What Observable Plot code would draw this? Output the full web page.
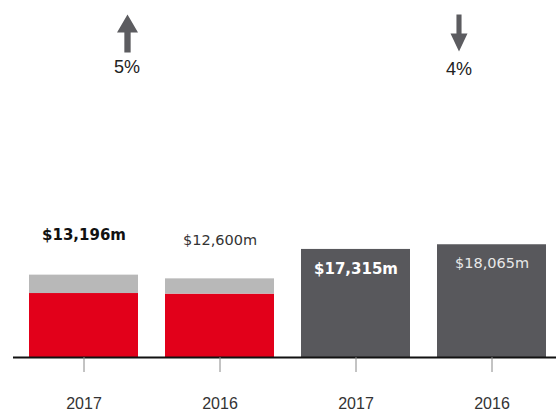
<!DOCTYPE html>
<html><head><meta charset="utf-8">
<script src="https://cdn.jsdelivr.net/npm/d3@7"></script>
<script src="https://cdn.jsdelivr.net/npm/@observablehq/plot@0.6"></script>
<style>body{margin:0;background:#fff} #chart svg{display:block}</style>
</head><body><div id="chart"></div>
<script>
// Data
const categories = ["Revenue 2017", "Revenue 2016", "Costs 2017", "Costs 2016"];
const tickLabels = ["2017", "2016", "2017", "2016"];
const totals = [13196, 12600, 17315, 18065];
const totalLabels = ["$13,196m", "$12,600m", "$17,315m", "$18,065m"];
const coreValues = [10250, 10150]; // red portion of the first two bars (estimated)
const changeLabels = ["5%", "4%"];
const changeDirections = ["up", "down"];

// Build rows
const barRows = [];
categories.forEach((c, i) => {
  if (i < 2) {
    barRows.push({cat: c, part: "core", value: coreValues[i]});
    barRows.push({cat: c, part: "other", value: totals[i] - coreValues[i]});
  } else {
    barRows.push({cat: c, part: "total", value: totals[i]});
  }
});
const labelRows = categories.map((c, i) => ({cat: c, total: totals[i], label: totalLabels[i]}));
const changeRows = changeLabels.map((l, i) => ({label: l, dir: changeDirections[i]}));

const arrowShape = {
  draw(ctx, l, r) {
    const hl = 18, sw = r * 0.3;
    ctx.moveTo(-sw, 0);
    ctx.lineTo(-sw, -(l - hl));
    ctx.lineTo(-r, -(l - hl));
    ctx.lineTo(0, -l);
    ctx.lineTo(r, -(l - hl));
    ctx.lineTo(sw, -(l - hl));
    ctx.lineTo(sw, 0);
    ctx.closePath();
  }
};

const arrowColor = "#5c5c60";
const plot = Plot.plot({
  width: 556,
  height: 413,
  marginLeft: 13,
  marginRight: 0,
  marginTop: 0,
  marginBottom: 56,
  style: {fontFamily: "Liberation Sans, Arial, sans-serif", background: "#fff"},
  x: {domain: categories, range: [28, 547], paddingInner: 0.2, paddingOuter: 0},
  y: {domain: [0, 57200], axis: null},
  color: {domain: ["core", "other", "total"], range: ["#e2001a", "#b8b8b8", "#58585c"]},
  marks: [
    Plot.barY(barRows, {x: "cat", y: "value", fill: "part"}),
    Plot.ruleY([0], {stroke: "#111", strokeWidth: 2}),
    Plot.axisX({
      tickSize: 15, tickPadding: 25, fontSize: 16,
      tickFormat: d => tickLabels[categories.indexOf(d)],
      stroke: "#888", fill: "#333", label: null
    }),
    Plot.text([labelRows[0]], {x: "cat", y: "total", text: "label", dy: -40, fontSize: 15, fontWeight: "bold", fontFamily: "DejaVu Sans", fill: "#111"}),
    Plot.text([labelRows[1]], {x: "cat", y: "total", text: "label", dy: -39, fontSize: 14.5, fontFamily: "DejaVu Sans", fill: "#333"}),
    Plot.text([labelRows[2]], {x: "cat", y: "total", text: "label", dy: 20, fontSize: 15, fontWeight: "bold", fontFamily: "DejaVu Sans", fill: "#fff"}),
    Plot.text([labelRows[3]], {x: "cat", y: "total", text: "label", dy: 19, fontSize: 14.5, fontFamily: "DejaVu Sans", fill: "#e8e8e8"}),
    // change annotations
    Plot.vector([changeRows[0]], {frameAnchor: "top-left", dx: 114, dy: 52, length: 38, r: 10.5, anchor: "start", rotate: 0, shape: arrowShape, fill: arrowColor, stroke: "none"}),
    Plot.vector([changeRows[1]], {frameAnchor: "top-left", dx: 445.5, dy: 14, length: 37, r: 8.5, anchor: "start", rotate: 180, shape: arrowShape, fill: arrowColor, stroke: "none"}),
    Plot.text([changeRows[0]], {frameAnchor: "top-left", dx: 113.5, dy: 67, text: "label", fontSize: 18, textAnchor: "middle", lineAnchor: "middle", fill: "#222"}),
    Plot.text([changeRows[1]], {frameAnchor: "top-left", dx: 445.5, dy: 69, text: "label", fontSize: 18, textAnchor: "middle", lineAnchor: "middle", fill: "#222"})
  ]
});
document.getElementById("chart").appendChild(plot);
</script>
</body></html>
